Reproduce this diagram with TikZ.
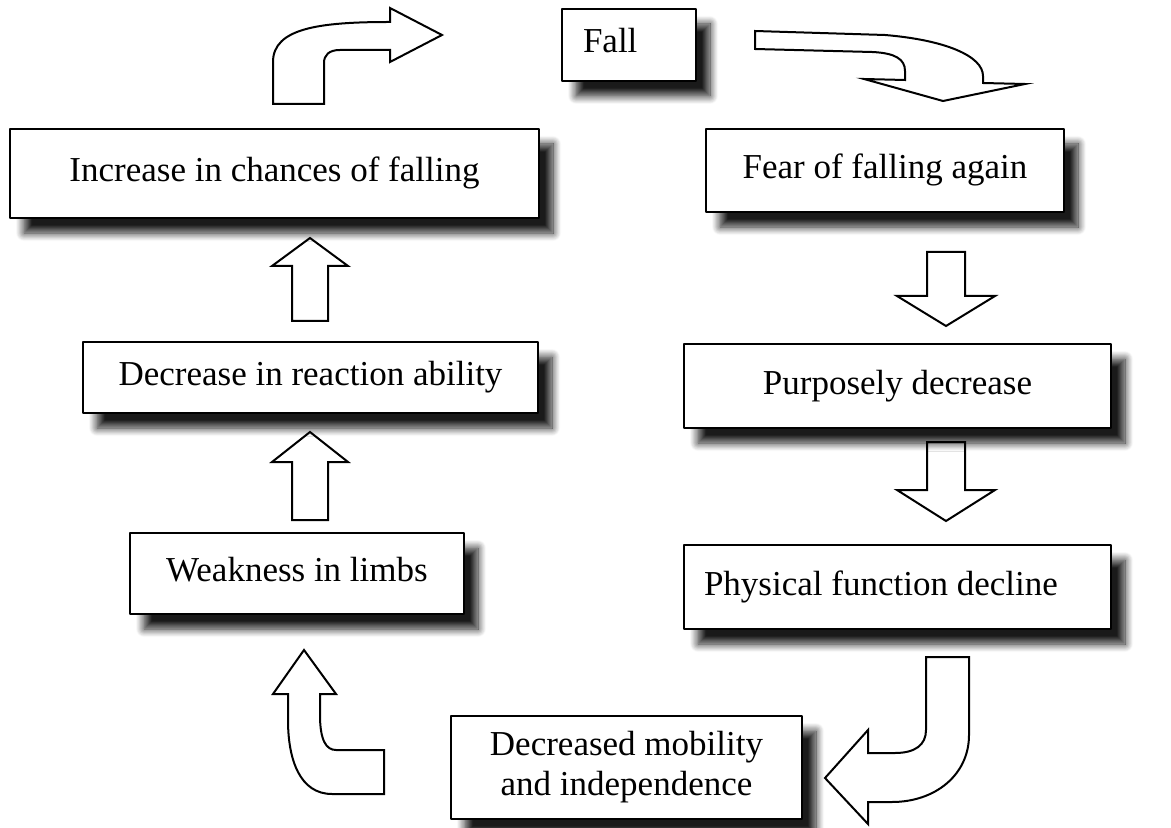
\documentclass[tikz,border=0pt]{standalone}
\usepackage{fontspec}
\setmainfont{Liberation Serif}
\usetikzlibrary{shadows.blur}
\tikzset{
  every picture/.style={line join=round, line cap=round},
  box/.style={draw, fill=white, line width=1pt, inner sep=0pt, anchor=north west,
    font=\fontsize{17.5}{20}\selectfont,
    blur shadow={shadow xshift=7pt, shadow yshift=-7.5pt, shadow blur radius=4pt,
      shadow blur steps=10, shadow opacity=90}},
  oneline/.style={text height=11.5pt, text depth=3.5pt},
  blockarrow/.style={draw, fill=white, line width=1pt, line join=miter},
}

\begin{document}
\begin{tikzpicture}[x=0.5pt,y=-0.5pt]
\useasboundingbox (0,0) rectangle (1171,828);
% block arrows
\draw[blockarrow](273,104)--(273,62) .. controls (273,28) and (320,22) .. (390,22)--(390,8)--(442,35)
  --(390,62)--(390,50)--(340,50) .. controls (329,50) and (324,55) .. (324,63)--(324,104)--cycle;
\draw[blockarrow](755,31)--(885,35) .. controls (945,40) and (983,56) .. (983,76)--(983,83)--(1025,84)
  --(943,101)--(864,79)--(905,80)--(905,71) .. controls (905,59) and (895,53) .. (872,52)--(755,49)--cycle;
\draw[blockarrow](927,252)--(965,252)--(965,296)--(995,296)--(946,326)--(897,296)--(927,296)--cycle;
\draw[blockarrow](927,442)--(965,442)--(965,490)--(995,490)--(946,521)--(897,490)--(927,490)--cycle;
\draw[blockarrow](926,657)--(969,657)--(969,735) .. controls (969,775) and (935,802) .. (892,802)
  --(868,802)--(868,824)--(825,778)--(868,730)--(868,753)--(895,753) .. controls (915,753) and (926,745) .. (926,730)--cycle;
\draw[blockarrow](304,650)--(336,694)--(320,694)--(320,715) .. controls (320,740) and (326,750) .. (336,750)
  --(384,750)--(384,794)--(332,794) .. controls (300,794) and (288,760) .. (288,720)--(288,694)--(273,694)--cycle;
\draw[blockarrow](292,520)--(328,520)--(328,462)--(348,462)--(310,432)--(272,462)--(292,462)--cycle;
\draw[blockarrow](292,321)--(328,321)--(328,266)--(348,266)--(310,238)--(272,266)--(292,266)--cycle;
% boxes
\node[box,oneline,minimum width=67pt,minimum height=36pt,inner xsep=10.5pt,text width=46pt,align=flush left]
  (fall) at (561,8) {Fall};
\node[box,oneline,minimum width=179pt,minimum height=41.5pt] (fear) at (705,128) {Fear of falling again};
\node[box,oneline,minimum width=213.5pt,minimum height=42pt] (purpose) at (683,343) {Purposely decrease};
\node[box,oneline,minimum width=213.5pt,minimum height=42pt,inner xsep=10pt,text width=193.5pt,align=flush left]
  (decline) at (683,544) {Physical function decline};
\node[box,minimum width=175.5pt,minimum height=51.5pt,align=center] (mobility) at (450,715)
  {Decreased mobility\\and independence};
\node[box,oneline,minimum width=167pt,minimum height=40.5pt] (weak) at (129,532) {Weakness in limbs};
\node[box,oneline,minimum width=227.5pt,minimum height=35.5pt] (react) at (82,341) {Decrease in reaction ability};
\node[box,oneline,minimum width=264.5pt,minimum height=44.5pt] (chance) at (9,128) {Increase in chances of falling};
\end{tikzpicture}
\end{document}
